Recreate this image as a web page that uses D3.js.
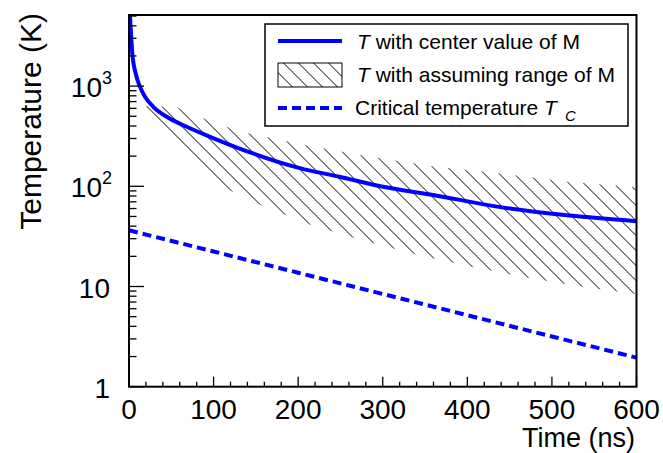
<!DOCTYPE html>
<html><head><meta charset="utf-8">
<script src="https://cdn.jsdelivr.net/npm/d3@7"></script>
<style>
body{margin:0;background:#fff;}
svg{display:block;font-family:"Liberation Sans",Arial,Helvetica,sans-serif;}
</style></head>
<body>
<svg id="chart" width="663" height="453"></svg>
<script>
// ---- data ----
const centerTime = [0, 1.2, 3.9, 7.9, 13, 18.9, 28.7, 44.6, 68.2, 95.8, 125.3, 202, 250, 297, 356, 439, 521, 600];
const centerTemp = [7000, 4909, 2119, 1339, 984, 782, 622, 494, 393, 312, 248, 152, 124, 100, 83, 62, 51, 44.8];

const upperTime = [20.1, 55.6, 87.5, 115.9, 140.7, 208, 273, 358, 436, 515, 600];
const upperTemp = [632, 617, 479, 390, 339, 259, 205, 159, 135, 112, 98];
const lowerTime = [20.1, 59, 88.7, 119.4, 154.9, 212.8, 266, 335.8, 405.5, 471.7, 536.7, 600];
const lowerTemp = [563, 259, 145, 91, 65.6, 41.9, 30.5, 21.2, 15.7, 12.2, 9.9, 8.4];

const critTime = [0, 100, 200, 300, 400, 500, 600];
const critTemp = [36.4, 22.35, 13.72, 8.42, 5.17, 3.17, 1.95];

const xTicks = [0, 100, 200, 300, 400, 500, 600];
const yTicks = [1, 10, 100, 1000];
const yTickLabels = [["1",""], ["10",""], ["10","2"], ["10","3"]];
const legendLabels = ["with center value of M", "with assuming range of M", "Critical temperature "];

// ---- layout ----
const L = 129, R = 636.5, T = 15, B = 386.7;
const svg = d3.select("#chart");
const x = d3.scaleLinear().domain([0, 600]).range([L, R]);
const y = d3.scaleLog().domain([1, 5125]).range([B, T]);

const defs = svg.append("defs");
const pat = defs.append("pattern").attr("id", "hatch")
  .attr("patternUnits", "userSpaceOnUse").attr("width", 15).attr("height", 15)
  .attr("patternTransform", "translate(10.5,0)");
pat.append("path").attr("d", "M-1,-1 L16,16 M-1,14 L1,16 M14,-1 L16,1")
  .attr("stroke", "#000").attr("stroke-width", 1).attr("fill", "none");
defs.append("clipPath").attr("id", "clip").append("rect")
  .attr("x", L).attr("y", T).attr("width", R - L).attr("height", B - T);

const plot = svg.append("g").attr("clip-path", "url(#clip)");

// band
const bandPts = upperTime.map((t, i) => [t, upperTemp[i]])
  .concat(lowerTime.map((t, i) => [t, lowerTemp[i]]).reverse());
const lin = d3.line().x(d => x(d[0])).y(d => y(d[1]));
plot.append("path").attr("d", lin(bandPts) + "Z")
  .attr("fill", "url(#hatch)").attr("stroke", "none");

// center curve
const smooth = d3.line().x(d => x(d[0])).y(d => y(d[1])).curve(d3.curveMonotoneX);
plot.append("path").attr("d", smooth(centerTime.map((t, i) => [t, centerTemp[i]])))
  .attr("fill", "none").attr("stroke", "#0000ff").attr("stroke-width", 4);

// critical temperature
plot.append("path").attr("d", lin(critTime.map((t, i) => [t, critTemp[i]])))
  .attr("fill", "none").attr("stroke", "#0000ff").attr("stroke-width", 4)
  .attr("stroke-dasharray", "9,5");

// frame
svg.append("rect").attr("x", L).attr("y", T).attr("width", R - L).attr("height", B - T)
  .attr("fill", "none").attr("stroke", "#000").attr("stroke-width", 2);

// x ticks
const ax = svg.append("g").attr("stroke", "#000").attr("stroke-width", 1.3);
for (let v = 0; v <= 600; v += 20) {
  const len = v % 100 === 0 ? 10 : 5;
  ax.append("line").attr("x1", x(v)).attr("x2", x(v)).attr("y1", B).attr("y2", B - len);
}
// y ticks
const yMinor = [];
[1, 10, 100, 1000].forEach(d => { for (let m = 2; m <= 9; m++) { if (d * m <= 5125) yMinor.push(d * m); } });
yMinor.forEach(v => ax.append("line").attr("x1", L).attr("x2", L + 7.5).attr("y1", y(v)).attr("y2", y(v)));
yTicks.forEach(v => ax.append("line").attr("x1", L).attr("x2", L + 15).attr("y1", y(v)).attr("y2", y(v)));

// tick labels
svg.append("g").selectAll("text").data(xTicks).join("text")
  .attr("x", d => x(d)).attr("y", 419).attr("text-anchor", "middle")
  .attr("font-size", 28).text(d => d);

yTicks.forEach((v, i) => {
  const [base, sup] = yTickLabels[i];
  const t = svg.append("text").attr("y", y(v) + 11).attr("font-size", 28).attr("text-anchor", "end");
  if (sup) {
    t.attr("x", 112);
    t.append("tspan").text(base);
    t.append("tspan").attr("font-size", 18).attr("dy", -13).text(sup);
  } else {
    t.attr("x", 110).text(base);
  }
});

// axis titles
svg.append("text").attr("x", 635).attr("y", 447).attr("text-anchor", "end")
  .attr("font-size", 27).text("Time (ns)");
svg.append("text").attr("transform", "translate(41,13) rotate(-90)").attr("text-anchor", "end")
  .attr("font-size", 30).text("Temperature (K)");

// legend
const lg = svg.append("g");
lg.append("rect").attr("x", 265).attr("y", 24).attr("width", 363).attr("height", 102)
  .attr("fill", "#fff").attr("stroke", "#000").attr("stroke-width", 1.5);
lg.append("line").attr("x1", 278).attr("x2", 342).attr("y1", 41).attr("y2", 41)
  .attr("stroke", "#0000ff").attr("stroke-width", 4);
lg.append("rect").attr("x", 278).attr("y", 63).attr("width", 64).attr("height", 24)
  .attr("fill", "url(#hatch)").attr("stroke", "#000").attr("stroke-width", 1);
lg.append("line").attr("x1", 278).attr("x2", 342).attr("y1", 108).attr("y2", 108)
  .attr("stroke", "#0000ff").attr("stroke-width", 4).attr("stroke-dasharray", "9,5");

const fs = 21;
const t1 = lg.append("text").attr("x", 357).attr("y", 49).attr("font-size", fs);
t1.append("tspan").attr("font-style", "italic").text("T");
t1.append("tspan").text(" " + legendLabels[0]);
const t2 = lg.append("text").attr("x", 357).attr("y", 82).attr("font-size", fs);
t2.append("tspan").attr("font-style", "italic").text("T");
t2.append("tspan").text(" " + legendLabels[1]);
const t3 = lg.append("text").attr("x", 355).attr("y", 115).attr("font-size", fs);
t3.append("tspan").text(legendLabels[2]);
t3.append("tspan").attr("font-style", "italic").text("T");
t3.append("tspan").attr("font-style", "italic").attr("font-size", 15).attr("dx", 8).attr("dy", 6).text("C");
</script>
</body></html>
